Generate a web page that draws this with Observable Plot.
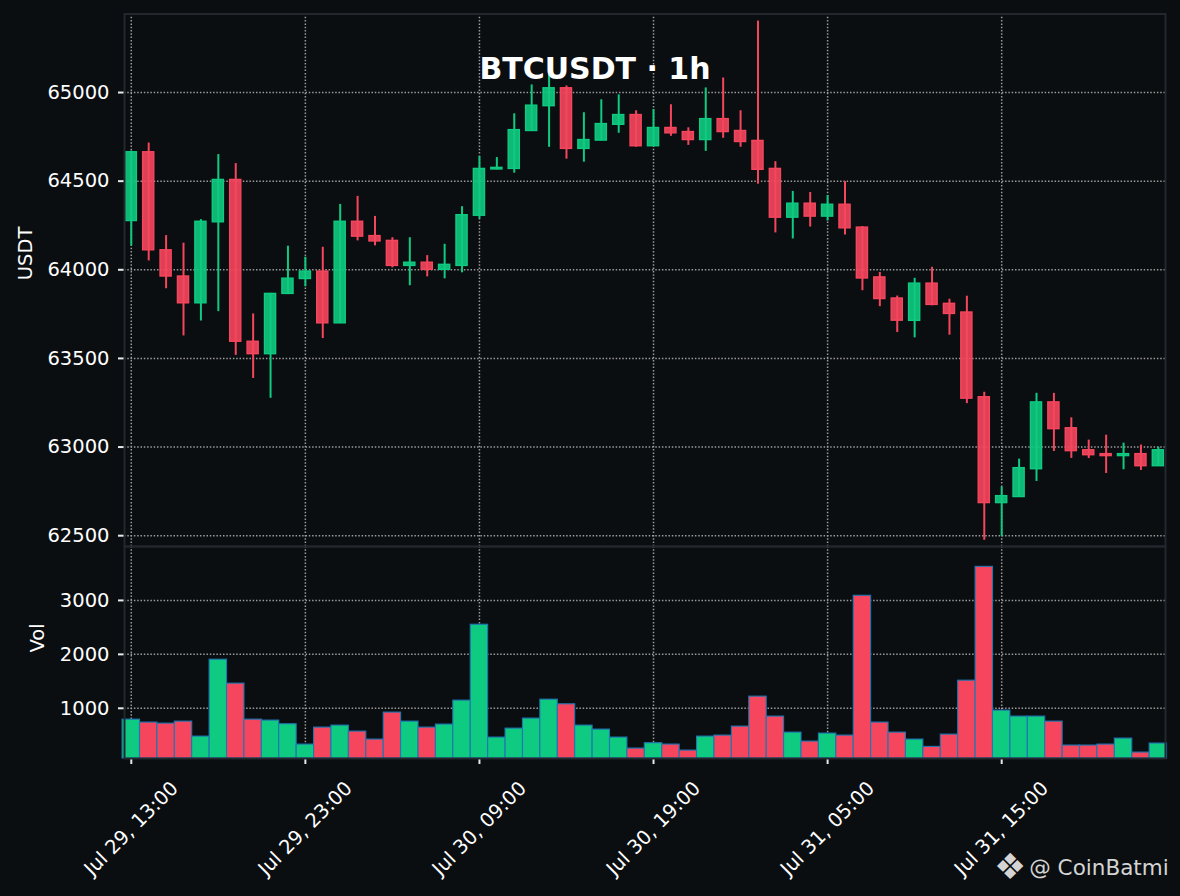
<!DOCTYPE html>
<html>
<head>
<meta charset="utf-8">
<script src="https://cdn.jsdelivr.net/npm/d3@7"></script>
<script src="https://cdn.jsdelivr.net/npm/@observablehq/plot@0.6"></script>
<style>
  html, body { margin: 0; padding: 0; background: #0b0e11; }
  #wrap { position: relative; width: 1180px; height: 896px; background: #0b0e11; overflow: hidden; font-family: "DejaVu Sans", sans-serif; }
  #topPanel, #bottomPanel { position: absolute; left: 0; }
  #topPanel { top: 0; }
  #bottomPanel { top: 546px; }
  #wm { position: absolute; left: 994px; top: 849px; color: #d4d4d4; font-family: "DejaVu Sans", sans-serif; font-size: 21.5px; white-space: nowrap; display: flex; align-items: center; }
  #wm .logo { font-size: 36px; margin-right: 3px; line-height: 1; }
</style>
</head>
<body>
<div id="wrap">
  <div id="topPanel"></div>
  <div id="bottomPanel"></div>
  <div id="wm"><span class="logo">❖</span><span>@ CoinBatmi</span></div>
</div>
<script>
const title = "BTCUSDT · 1h";
const priceLabel = "USDT";
const volLabel = "Vol";
const xTickIdx = [0, 10, 20, 30, 40, 50];
const xTickLabels = ["Jul 29, 13:00", "Jul 29, 23:00", "Jul 30, 09:00", "Jul 30, 19:00", "Jul 31, 05:00", "Jul 31, 15:00"];
const priceTicks = [62500, 63000, 63500, 64000, 64500, 65000];
const volTicks = [1000, 2000, 3000];

const open = [64275,64663,64110,63962,63811,64268,64507,63594,63524,63864,
  63948,63990,63698,64271,64190,64163,64022,64040,64000,64022,
  64305,64566,64569,64783,64923,65024,64682,64729,64818,64873,
  64697,64800,64777,64732,64850,64783,64727,64569,64294,64373,
  64300,64367,64238,63957,63838,63712,63922,63808,63759,63281,
  62684,62718,62875,63252,63106,62982,62960,62949,62960,62892];
const high = [64670,64715,64193,64150,64283,64650,64599,63751,63867,64133,
  64071,64127,64369,64414,64301,64181,64181,64080,64144,64356,
  64639,64633,64880,65043,65103,65037,64886,64959,64987,64897,
  64904,64931,64801,65026,65082,64897,65403,64610,64442,64436,
  64419,64498,64244,63985,63852,63952,64014,63834,63851,63309,
  62774,62932,63303,63303,63165,63039,63067,63022,63011,62999];
const low = [64135,64050,63893,63627,63711,63764,63517,63387,63275,63860,
  63904,63612,63698,64163,64135,64011,63910,63960,63949,63983,
  64286,64564,64545,64783,64691,64624,64607,64727,64770,64691,
  64697,64753,64702,64668,64742,64691,64483,64208,64174,64241,
  64275,64196,63882,63792,63646,63616,63797,63631,63245,62474,
  62496,62718,62806,62975,62936,62935,62851,62872,62868,62892];
const close = [64663,64110,63962,63811,64271,64507,63594,63524,63864,63950,
  63990,63698,64271,64187,64160,64022,64040,64000,64028,64308,
  64569,64575,64788,64926,65024,64682,64732,64822,64873,64697,
  64800,64770,64732,64850,64777,64721,64564,64294,64373,64300,
  64367,64234,63951,63835,63713,63922,63802,63751,63273,62684,
  62723,62881,63252,63101,62977,62954,62949,62960,62892,62982];
const volume = [790,735,716,753,475,1901,1457,790,772,704,
  327,642,679,568,420,920,753,642,698,1142,
  2549,457,623,809,1160,1074,679,605,457,253,
  352,327,216,475,494,660,1216,846,549,383,
  531,494,3086,735,549,420,284,512,1512,3623,
  957,846,846,753,309,309,327,438,179,346];

const UP = "#0ecb81", DOWN = "#f6465d";
const candles = open.map((o, i) => ({i, open: o, high: high[i], low: low[i], close: close[i], vol: volume[i], up: close[i] >= o}));

const W = 1180, ML = 124, MR = 15;
const xDomain = [-0.39, 59.41];
const gridStyle = {stroke: "#9a9a9a", strokeOpacity: 1, strokeWidth: 1.5, strokeDasharray: "1.5,1.8"};
const fontStyle = {background: "transparent", color: "white", fontFamily: "DejaVu Sans, sans-serif", fontSize: "19.5px", overflow: "visible"};
const plain = d => String(d);

const priceChart = Plot.plot({
  width: W, height: 546,
  marginLeft: ML, marginRight: MR, marginTop: 13.5, marginBottom: 0,
  style: fontStyle,
  x: {domain: xDomain, axis: null},
  y: {domain: [62439, 65443], axis: null},
  color: {type: "identity"},
  marks: [
    Plot.gridY({ticks: priceTicks, ...gridStyle}),
    Plot.gridX({ticks: xTickIdx, ...gridStyle}),
    Plot.ruleX(candles, {x: "i", y1: "low", y2: "high", stroke: d => d.up ? UP : DOWN, strokeWidth: 2}),
    Plot.rect(candles, {x1: d => d.i - 0.32, x2: d => d.i + 0.32, y1: "open", y2: "close",
      fill: d => d.up ? UP : DOWN, fillOpacity: 0.9, stroke: d => d.up ? UP : DOWN, strokeWidth: 1.4}),
    Plot.axisY({ticks: priceTicks, tickFormat: plain, tickSize: 6, tickPadding: 9, fontSize: 19.5, fill: "white", stroke: "#e8e8e8", strokeWidth: 2, label: null}),
    Plot.text([priceLabel], {text: d => d, frameAnchor: "left", dx: -99, rotate: -90, fill: "white", fontSize: 19.5}),
    Plot.text([title], {text: d => d, frameAnchor: "top", dx: -50, dy: 55, lineAnchor: "middle", fill: "white", fontSize: 30, fontWeight: "bold"}),
    Plot.frame({stroke: "#23272e", strokeWidth: 2})
  ]
});
document.getElementById("topPanel").appendChild(priceChart);

const volChart = Plot.plot({
  width: W, height: 350,
  marginLeft: ML, marginRight: MR, marginTop: 0, marginBottom: 138,
  style: fontStyle,
  x: {domain: xDomain, axis: null},
  y: {domain: [69, 4000], axis: null},
  color: {type: "identity"},
  marks: [
    Plot.gridY({ticks: volTicks, ...gridStyle}),
    Plot.gridX({ticks: xTickIdx, ...gridStyle}),
    Plot.rectY(candles, {x1: d => d.i - 0.5, x2: d => d.i + 0.5, y1: 69, y2: "vol",
      fill: d => d.up ? UP : DOWN, stroke: "#1f77b4", strokeWidth: 1.1}),
    Plot.axisY({ticks: volTicks, tickFormat: plain, tickSize: 6, tickPadding: 9, fontSize: 19.5, fill: "white", stroke: "#e8e8e8", strokeWidth: 2, label: null}),
    Plot.axisX({ticks: xTickIdx, tickFormat: () => "", tickSize: 6, stroke: "#e8e8e8", strokeWidth: 2, label: null}),
    Plot.text(xTickIdx, {x: d => d, text: (d, i) => xTickLabels[i], frameAnchor: "bottom", dy: 70, rotate: -45,
      textAnchor: "middle", lineAnchor: "middle", fill: "white", fontSize: 19.5}),
    Plot.text([volLabel], {text: d => d, frameAnchor: "left", dx: -87, rotate: -90, fill: "white", fontSize: 19.5}),
    Plot.frame({stroke: "#23272e", strokeWidth: 2})
  ]
});
document.getElementById("bottomPanel").appendChild(volChart);
</script>
</body>
</html>
